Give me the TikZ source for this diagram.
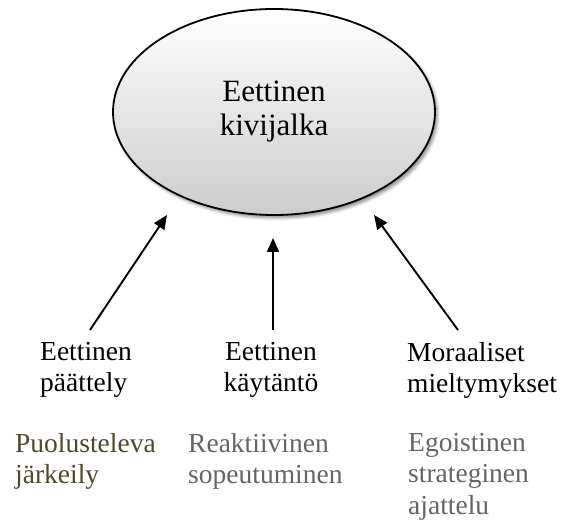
\documentclass[tikz,border=0pt]{standalone}
\usepackage{fontspec}
\setmainfont{Liberation Serif}
\usetikzlibrary{arrows.meta,shadows.blur,shapes.geometric}
\definecolor{olivetext}{RGB}{78,72,44}
\definecolor{greytext}{RGB}{100,100,100}
\tikzset{
  core/.style={ellipse, draw=black, line width=1.8pt, minimum width=322pt, minimum height=206pt,
    top color=white, bottom color=black!20, align=center,
    font=\fontsize{31}{34}\selectfont,
    blur shadow={shadow xshift=2.5pt, shadow yshift=-3pt, shadow blur radius=3pt, shadow opacity=45}},
  factor/.style={anchor=north west, inner sep=0pt, align=left, font=\fontsize{27.5}{31.5}\selectfont,
    execute at begin node=\strut},
  factorc/.style={factor, anchor=north, align=center},
  bias/.style={factor},
  push/.style={line width=1.9pt, -{Triangle[length=14pt,width=12pt]}}
}
\begin{document}
\begin{tikzpicture}[x=1pt,y=-1pt]
  \useasboundingbox (0,0) rectangle (563,529);
  % central ellipse
  \node[core] (base) at (274,112) {Eettinen\\kivijalka};
  % three contributing factors
  \node[factor]  (reason)  at (40,342)  {Eettinen\\päättely};
  \node[factorc] (practice) at (271,342) {Eettinen\\käytäntö};
  \node[factor]  (pref)    at (407,342) {Moraaliset\\mieltymykset};
  % their distorted counterparts
  \node[bias, text=olivetext] (justify) at (15,433) {Puolusteleva\\järkeily};
  \node[bias, text=greytext]  (react)   at (188,433) {Reaktiivinen\\sopeutuminen};
  \node[bias, text=greytext]  (ego)     at (408,433) {Egoistinen\\strateginen\\ajattelu};
  % arrow end points
  \coordinate (t1) at (90,330);  \coordinate (h1) at (167,215);
  \coordinate (t2) at (273,330); \coordinate (h2) at (273,238);
  \coordinate (t3) at (458,330); \coordinate (h3) at (374,215);
  \draw[push] (t1) -- (h1);
  \draw[push] (t2) -- (h2);
  \draw[push] (t3) -- (h3);
\end{tikzpicture}
\end{document}
